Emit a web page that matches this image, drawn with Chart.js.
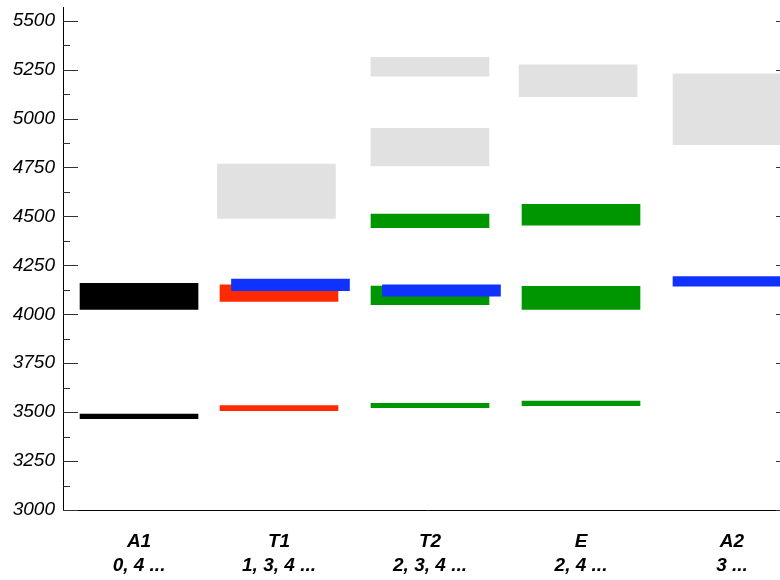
<!DOCTYPE html>
<html><head><meta charset="utf-8">
<script src="https://cdn.jsdelivr.net/npm/chart.js@4.4.1/dist/chart.umd.min.js"></script>
<style>html,body{margin:0;padding:0;overflow:hidden;background:#fff;width:780px;height:580px}canvas{display:block}</style>
</head><body>
<canvas id="c" width="795" height="580"></canvas>
<script>
// ---- data ----
const categories = ['A1', 'T1', 'T2', 'E', 'A2'];
const subLabels = ['0, 4 ...', '1, 3, 4 ...', '2, 3, 4 ...', '2, 4 ...', '3 ...'];
const categoryX = [0.073, 1, 2, 3, 4];
const yTickValues = [3000, 3250, 3500, 3750, 4000, 4250, 4500, 4750, 5000, 5250, 5500];

const mainBand = [[4025, 4158], [4066, 4150], [4049, 4144], [4025, 4143], null];
const lowBand = [[3466, 3490], [3507, 3533], [3523, 3545], [3533, 3557], null];
const midBand = [null, null, [4442, 4512], [4455, 4562], null];
const blueBand = [null, [4120, 4180], [4092, 4150], null, [4144, 4192]];
const grayBand = [null, [4490, 4768], [4758, 4950], [5112, 5274], [4866, 5228]];
const grayUpperBand = [null, null, [5217, 5313], null, null];

// ---- styles ----
const catColors = ['#000000', '#ff2a00', '#009600', '#009600', '#009600'];
const BLUE = '#0f32ff';
const GRAY = '#e1e1e1';
const blueNudge = [0, 0.076, 0.076, 0, 0];
const grayNudge = [0, -0.017, 0, -0.02, 0];
const FONT = '"Liberation Sans", Arial, Helvetica, sans-serif';

function points(band, nudge) {
  const out = [];
  band.forEach((r, i) => {
    if (r) out.push({ x: categoryX[i] + (nudge ? nudge[i] : 0), y: r, cat: i });
  });
  return out;
}

const common = { stack: 's', barThickness: 118, borderWidth: 0, borderSkipped: false };

const innerTicks = {
  id: 'innerTicks',
  beforeDatasetsDraw(chart) {
    const { ctx, chartArea: a } = chart;
    const y = chart.scales.y;
    ctx.save();
    ctx.strokeStyle = '#333';
    ctx.lineWidth = 1;
    for (let v = 3000; v <= 5500; v += 125) {
      const major = v % 250 === 0;
      const len = major ? 15 : 7;
      const py = Math.round(y.getPixelForValue(v)) + 0.5;
      ctx.beginPath();
      ctx.moveTo(a.left, py); ctx.lineTo(a.left + len, py);
      ctx.moveTo(a.right, py); ctx.lineTo(a.right - len, py);
      ctx.stroke();
    }
    ctx.restore();
  }
};

new Chart(document.getElementById('c'), {
  type: 'bar',
  data: {
    datasets: [
      Object.assign({ label: 'blue', data: points(blueBand, blueNudge), backgroundColor: BLUE, order: 0 }, common),
      Object.assign({ label: 'main', data: points(mainBand), backgroundColor: c => catColors[c.raw ? c.raw.cat : 0], order: 1 }, common),
      Object.assign({ label: 'mid', data: points(midBand), backgroundColor: c => catColors[c.raw ? c.raw.cat : 0], order: 1 }, common),
      Object.assign({ label: 'low', data: points(lowBand), backgroundColor: c => catColors[c.raw ? c.raw.cat : 0], order: 1 }, common),
      Object.assign({ label: 'gray', data: points(grayBand, grayNudge), backgroundColor: GRAY, order: 2 }, common),
      Object.assign({ label: 'grayUpper', data: points(grayUpperBand, grayNudge), backgroundColor: GRAY, order: 2 }, common)
    ]
  },
  options: {
    responsive: false,
    animation: false,
    layout: { padding: { top: 7, right: 4, left: 0, bottom: 0 } },
    plugins: { legend: { display: false }, tooltip: { enabled: false } },
    scales: {
      x: {
        type: 'linear', min: -0.4305, max: 4.3907, offset: false, stacked: true,
        grid: { display: false, drawTicks: false, offset: false },
        border: { display: true, color: '#000', width: 1 },
        afterBuildTicks: s => { s.ticks = categoryX.map(v => ({ value: v })); },
        afterFit: s => { s.height = 70; s.paddingLeft = 0; s.paddingRight = 0; },
        ticks: {
          autoSkip: false, maxRotation: 0, minRotation: 0, padding: 20, color: '#000',
          font: { family: FONT, size: 19, style: 'italic', weight: 'bold', lineHeight: 1.26 },
          callback: (v, i) => [categories[i], subLabels[i]]
        }
      },
      y: {
        type: 'linear', min: 3000, max: 5570, stacked: false,
        grid: { display: false, drawTicks: false },
        border: { display: true, color: '#000', width: 1 },
        afterBuildTicks: s => { s.ticks = yTickValues.map(v => ({ value: v })); },
        afterFit: s => { s.width = 63; s.paddingTop = 0; s.paddingBottom = 0; },
        ticks: {
          padding: 8, color: '#000',
          font: { family: FONT, size: 19, style: 'italic' },
          callback: v => String(v)
        }
      }
    }
  },
  plugins: [innerTicks]
});
</script>
</body></html>
